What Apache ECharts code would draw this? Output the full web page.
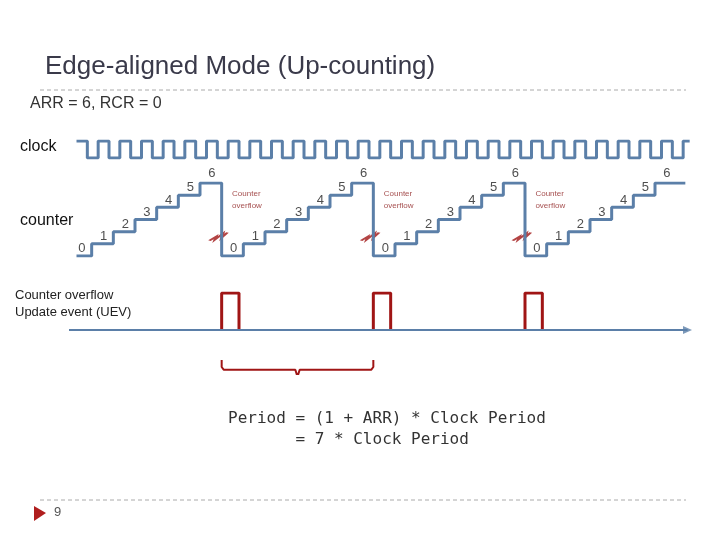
<!DOCTYPE html><html><head><meta charset="utf-8">
<script src="https://cdn.jsdelivr.net/npm/echarts@6/dist/echarts.min.js"></script>
<style>html,body{margin:0;background:#fff}#c{width:720px;height:540px}</style></head><body><div id="c"></div>
<script>
const counterValues=[0,1,2,3,4,5,6,0,1,2,3,4,5,6,0,1,2,3,4,5,6,0,1,2,3,4,5,6];
const clockLevels=[1,0,1,0,1,0,1,0,1,0,1,0,1,0,1,0,1,0,1,0,1,0,1,0,1,0,1,0,1,0,1,0,1,0,1,0,1,0,1,0,1,0,1,0,1,0,1,0,1,0,1,0,1,0,1,0,1];
const overflowTimes=[7,14,21];
const periodText=['Period = (1 + ARR) * Clock Period','       = 7 * Clock Period'];
const blue='#5b7fa8', red='#a01515';
const counterPts=counterValues.map((v,i)=>[i+0.3*(i===0),v]);counterPts.push([28.4,6]);
const clockPts=clockLevels.map((v,i)=>[0.3+i*0.5,v]);clockPts.push([28.6,1]);
const labelPts=counterValues.map((v,i)=>({value:[i+0.55,v+0.6+(v===6?0.2:0)],label:{formatter:String(v)}}));
const series=[];
series.push({type:'line',xAxisIndex:0,yAxisIndex:0,step:'end',data:clockPts,symbol:'none',lineStyle:{color:blue,width:3},silent:true});
series.push({type:'line',xAxisIndex:1,yAxisIndex:1,step:'end',data:counterPts,symbol:'none',lineStyle:{color:blue,width:3}});
series.push({type:'scatter',xAxisIndex:1,yAxisIndex:1,clip:false,data:labelPts,symbolSize:0,label:{show:true,position:'inside',color:'#222',fontSize:13,fontFamily:'Liberation Sans'}});
overflowTimes.forEach(t=>{
 series.push({type:'scatter',xAxisIndex:1,yAxisIndex:1,data:[[t-0.15,1.6]],symbol:'path://M0,10 L6,6 L5,9 L12,3 L11,7 L16,2',symbolSize:[18,8],itemStyle:{color:'none',borderColor:red,borderWidth:2}});
 series.push({type:'scatter',xAxisIndex:1,yAxisIndex:1,clip:false,data:[[t+0.25,4.6]],symbolSize:0,label:{show:true,position:'right',formatter:'Counter\noverflow',color:'#8b1a1a',fontSize:8,lineHeight:12,align:'left'}});
 series.push({type:'line',xAxisIndex:2,yAxisIndex:2,data:[[t,0],[t,1],[t+0.8,1],[t+0.8,0]],symbol:'none',lineStyle:{color:red,width:3}});
});
series.push({type:'line',xAxisIndex:2,yAxisIndex:2,data:[[-0.25,0],[28.5,0]],symbol:'none',lineStyle:{color:blue,width:2}});
series.push({type:'scatter',xAxisIndex:2,yAxisIndex:2,clip:false,data:[[28.5,0]],symbol:'triangle',symbolRotate:-90,symbolSize:[8,9],itemStyle:{color:blue}});
series.push({type:'line',xAxisIndex:3,yAxisIndex:3,data:[[7,0],[7,0.5],[7.1,0.7],[10.4,0.7],[10.5,1.2],[10.6,0.7],[13.9,0.7],[14,0.5],[14,0]],symbol:'none',lineStyle:{color:red,width:2}});
const grids=[{top:141,height:17},{top:183,height:73},{top:293,height:37},{top:360,height:14}].map(g=>({left:70,width:660,...g}));
const xA=grids.map((g,i)=>({type:'value',gridIndex:i,min:0,max:30,show:false}));
const yA=[{max:1},{max:6},{max:1},{max:1,inverse:true}].map((y,i)=>({type:'value',gridIndex:i,min:0,show:false,...y}));
const txt=(x,y,s,st)=>({type:'text',left:x,top:y,style:{text:s,fill:'#333',font:'16px "Liberation Sans"',...st}});
const chart=echarts.init(document.getElementById('c'));
chart.setOption({animation:false,grid:grids,xAxis:xA,yAxis:yA,series,
graphic:[
 txt(45,54,'Edge-aligned Mode (Up-counting)',{font:'26px "Liberation Sans"',fill:'#3a3a4a'}),
 {type:'line',shape:{x1:40,y1:90,x2:686,y2:90},style:{stroke:'#aaa',lineDash:[4,3],lineWidth:1}},
 txt(30,96,'ARR = 6, RCR = 0'),
 txt(20,139,'clock',{fill:'#111'}),
 txt(20,213,'counter',{fill:'#111'}),
 txt(15,287,'Counter overflow\nUpdate event (UEV)',{font:'13px "Liberation Sans"',lineHeight:17,fill:'#222'}),
 txt(228,408,periodText.join('\n'),{font:'16px "DejaVu Sans Mono"',lineHeight:21,fill:'#333'}),
 {type:'line',shape:{x1:40,y1:500,x2:686,y2:500},style:{stroke:'#aaa',lineDash:[4,3],lineWidth:1}},
 {type:'polygon',shape:{points:[[34,506],[46,513],[34,521]]},style:{fill:'#b01e1e'}},
 txt(54,506,'9',{font:'13px "Liberation Sans"',fill:'#555'})
]});
</script></body></html>
